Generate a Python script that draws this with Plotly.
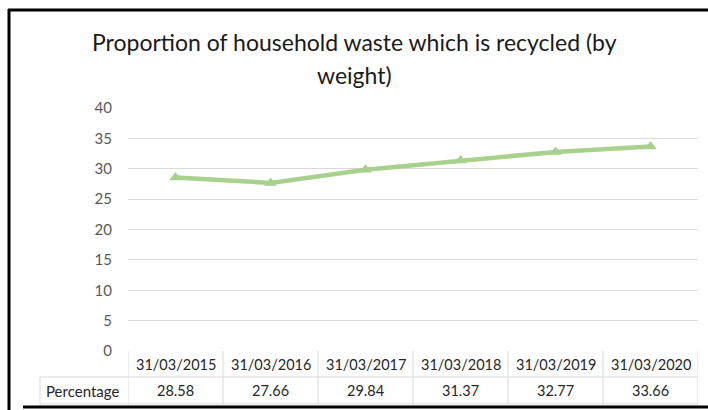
import plotly.graph_objects as go

title_lines = ["Proportion of household waste which is recycled (by", "weight)"]
series_name = "Percentage"
categories = ["31/03/2015", "31/03/2016", "31/03/2017", "31/03/2018", "31/03/2019", "31/03/2020"]
values = [28.58, 27.66, 29.84, 31.37, 32.77, 33.66]
y_ticks = [0, 5, 10, 15, 20, 25, 30, 35, 40]

W, H = 708, 410
L, R, T, B = 128, 10, 108, 59
PW, PH = W - L - R, H - T - B

def px_x(p):
    return (p - L) / PW

def px_y(p):
    return (H - B - p) / PH

FONT = "Lato"
GRID = "#d9d9d9"
GREEN = "#a9d18e"
TXT = "#262626"

fig = go.Figure()
fig.add_trace(go.Scatter(
    x=list(range(len(categories))), y=values, mode="lines+markers",
    line=dict(color=GREEN, width=4.5),
    marker=dict(symbol="triangle-up", size=11, color=GREEN),
    name=series_name, showlegend=False, hoverinfo="skip",
))

shapes = []
annotations = []
n = len(categories)
row1_bot = px_y(377)
row2_bot = px_y(404)
for i in range(n + 1):
    shapes.append(dict(type="line", xref="x", yref="paper", x0=i - 0.5, x1=i - 0.5,
                       y0=0, y1=row2_bot, line=dict(color=GRID, width=1)))
shapes.append(dict(type="line", xref="paper", yref="paper", x0=px_x(40), x1=px_x(40),
                   y0=row1_bot, y1=row2_bot, line=dict(color=GRID, width=1)))
shapes.append(dict(type="line", xref="paper", yref="paper", x0=px_x(40), x1=1,
                   y0=row1_bot, y1=row1_bot, line=dict(color=GRID, width=1)))
shapes.append(dict(type="line", xref="paper", yref="paper", x0=px_x(40), x1=1,
                   y0=row2_bot, y1=row2_bot, line=dict(color=GRID, width=1)))
# outer frame
shapes.append(dict(type="line", xref="paper", yref="paper", x0=px_x(9), x1=px_x(9),
                   y0=px_y(9), y1=px_y(412), line=dict(color="black", width=3)))
shapes.append(dict(type="line", xref="paper", yref="paper", x0=px_x(8), x1=px_x(712),
                   y0=px_y(10), y1=px_y(10), line=dict(color="black", width=3)))
shapes.append(dict(type="line", xref="paper", yref="paper", x0=px_x(23), x1=px_x(712),
                   y0=px_y(407), y1=px_y(407), line=dict(color="black", width=3)))

for i, (c, v) in enumerate(zip(categories, values)):
    annotations.append(dict(x=i, y=(0 + row1_bot) / 2, xref="x", yref="paper", text=c,
                            showarrow=False, font=dict(family=FONT, size=14.5, color=TXT),
                            xanchor="center", yanchor="middle"))
    annotations.append(dict(x=i, y=(row1_bot + row2_bot) / 2, xref="x", yref="paper",
                            text=f"{v:.2f}", showarrow=False,
                            font=dict(family=FONT, size=14.5, color=TXT),
                            xanchor="center", yanchor="middle"))
annotations.append(dict(x=px_x(82), y=(row1_bot + row2_bot) / 2, xref="paper", yref="paper",
                        text=series_name, showarrow=False,
                        font=dict(family=FONT, size=15, color=TXT),
                        xanchor="center", yanchor="middle"))
for line_text, ypix in zip(title_lines, [42, 75]):
    annotations.append(dict(x=px_x(354), y=px_y(ypix), xref="paper", yref="paper",
                            text=line_text, showarrow=False, align="center",
                            font=dict(family=FONT, size=23, color="#1a1a1a"),
                            xanchor="center", yanchor="middle"))

fig.update_layout(
    width=W, height=H, margin=dict(l=L, r=R, t=T, b=B),
    paper_bgcolor="white", plot_bgcolor="white",
    shapes=shapes, annotations=annotations,
    xaxis=dict(range=[-0.5, n - 0.5], showticklabels=False, showgrid=False,
               zeroline=False, ticks=""),
    yaxis=dict(range=[0, 40], tickvals=y_ticks, showgrid=True, gridcolor=GRID, gridwidth=1,
               zeroline=False, ticks="", ticklabelstandoff=15,
               tickfont=dict(family=FONT, size=15, color="#595959")),
)
fig.write_html("out.html", config={"displayModeBar": False},
               post_script="document.body.style.margin='0';document.body.style.overflow='hidden';")
